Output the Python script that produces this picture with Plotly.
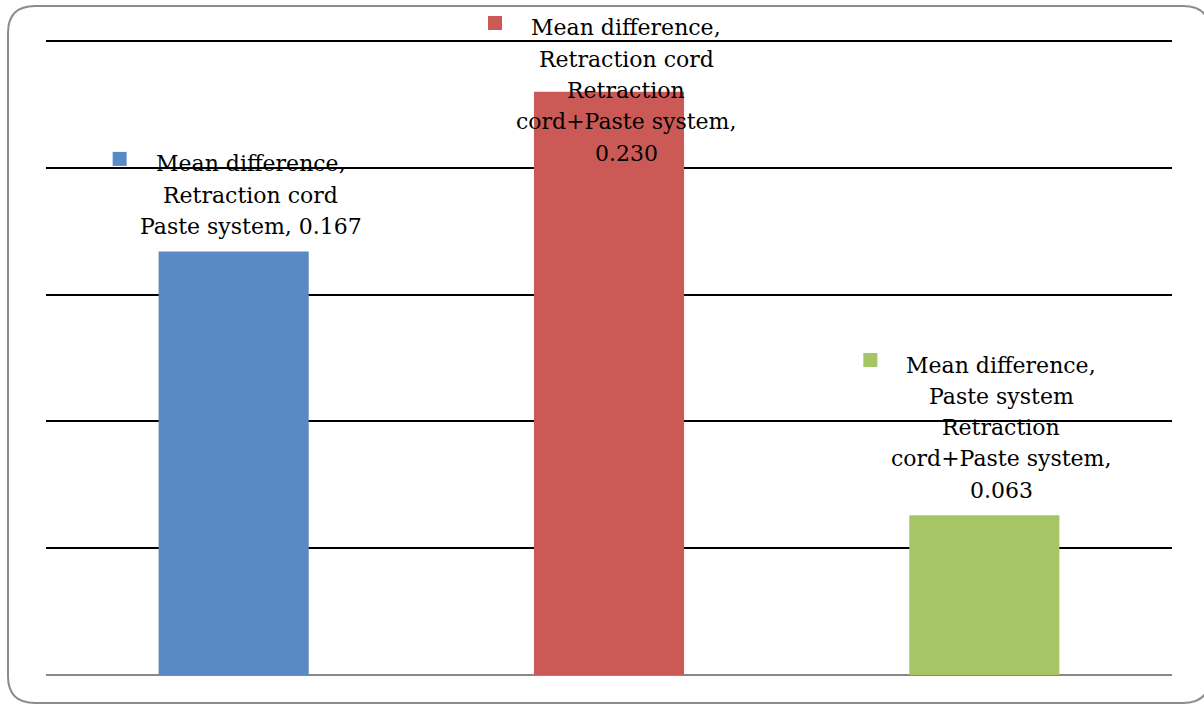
import textwrap
import plotly.graph_objects as go

# Data
series_name = "Mean difference"
categories = [
    "Retraction cord Paste system",
    "Retraction cord Retraction cord+Paste system",
    "Paste system Retraction cord+Paste system",
]
values = [0.167, 0.230, 0.063]
colors = ["#5A8AC6", "#CB5A56", "#A6C564"]

# Figure geometry
W, H = 1204, 704
ML, MR, MT, MB = 46, 32, 41, 29
PW, PH = W - ML - MR, H - MT - MB
Y_MAX = 0.25
N = len(categories)

FONT = dict(family="DejaVu Serif", size=22, color="#000000")
LINE_H = 31.3      # distance between label baselines
BASE_GAP = 18      # last baseline sits this far above the bar top
WRAP = 19          # characters per label line

fig = go.Figure()
fig.add_trace(go.Bar(
    x=list(range(N)),
    y=values,
    marker=dict(color=colors, line=dict(width=0)),
    hoverinfo="skip",
    name=series_name,
    showlegend=False,
))

annotations = []
shapes = []
for i, (cat, val, col) in enumerate(zip(categories, values, colors)):
    lines = textwrap.wrap(f"{series_name}, {cat}, {val:.3f}", width=WRAP)
    n = len(lines)
    bar_top_px = val / Y_MAX * PH
    # baseline of the first line, pixels above the bar top
    first = BASE_GAP + (n - 1) * LINE_H
    # keep the label inside the chart area
    limit = PH + 6 - bar_top_px
    if first > limit:
        first = limit
    for k, line in enumerate(lines):
        base = first - k * LINE_H
        annotations.append(dict(
            x=i, y=val, xref="x", yref="y",
            text=line, showarrow=False,
            xanchor="center", yanchor="middle",
            xshift=17, yshift=base + 7,
            font=FONT,
        ))
    # legend key next to the first line (paper refs so it is never clipped)
    sq = first + 12
    shapes.append(dict(
        type="rect", xref="paper", yref="paper",
        xsizemode="pixel", ysizemode="pixel",
        xanchor=(i + 0.5) / N, yanchor=val / Y_MAX,
        x0=-121, x1=-107, y0=sq - 7, y1=sq + 7,
        fillcolor=col, line=dict(width=0), layer="above",
    ))

# top gridline (plotly drops grid lines sitting on the plot edge)
shapes.append(dict(type="line", xref="paper", yref="paper",
                   x0=0, x1=1, y0=1, y1=1,
                   line=dict(color="#000000", width=2), layer="below"))

# rounded outer frame, converted from pixels to paper coordinates
def px(xp):
    return (xp - ML) / PW

def py(yp):
    return (H - MB - yp) / PH

L, R, T, B, RAD = 8, 1210, 6, 703, 27
frame = (
    f"M {px(L + RAD)},{py(T)} L {px(R - RAD)},{py(T)} "
    f"Q {px(R)},{py(T)} {px(R)},{py(T + RAD)} "
    f"L {px(R)},{py(B - RAD)} Q {px(R)},{py(B)} {px(R - RAD)},{py(B)} "
    f"L {px(L + RAD)},{py(B)} Q {px(L)},{py(B)} {px(L)},{py(B - RAD)} "
    f"L {px(L)},{py(T + RAD)} Q {px(L)},{py(T)} {px(L + RAD)},{py(T)} Z"
)
shapes.append(dict(type="path", xref="paper", yref="paper", path=frame,
                   line=dict(color="#8C8C8C", width=2), layer="above"))

fig.update_layout(
    width=W, height=H,
    margin=dict(l=ML, r=MR, t=MT, b=MB, pad=0),
    paper_bgcolor="white", plot_bgcolor="white",
    bargap=0.6,
    showlegend=False,
    annotations=annotations,
    shapes=shapes,
    xaxis=dict(range=[-0.5, N - 0.5], showticklabels=False,
               showgrid=False, zeroline=False, showline=False, ticks=""),
    yaxis=dict(range=[0, Y_MAX], tick0=0, dtick=0.05,
               showticklabels=False,
               showgrid=True, gridcolor="#000000", gridwidth=2,
               zeroline=True, zerolinecolor="#888888", zerolinewidth=2,
               showline=False, ticks=""),
)

fig.write_html("out.html")
